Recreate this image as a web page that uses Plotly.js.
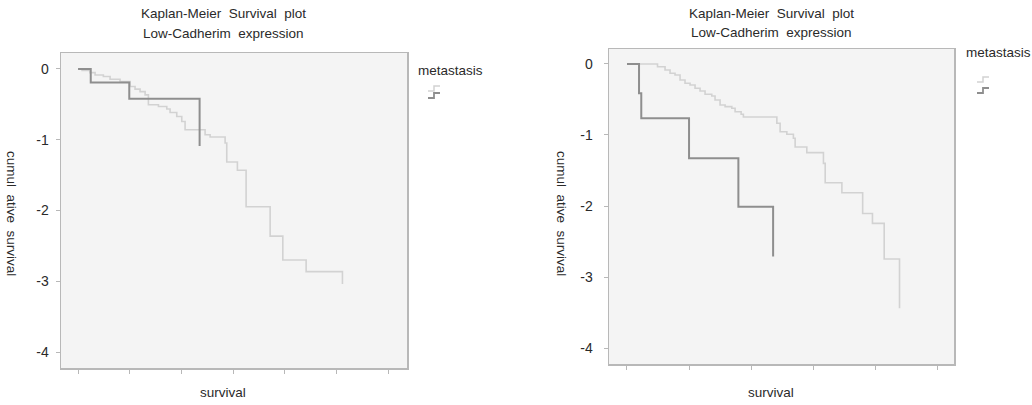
<!DOCTYPE html>
<html>
<head>
<meta charset="utf-8">
<script src="https://cdn.plot.ly/plotly-3.0.1.min.js"></script>
<style>html,body{margin:0;padding:0;background:#fff;}#chart{width:1032px;height:405px;}</style>
</head>
<body>
<div id="chart"></div>
<script>
// ---- Data ----
const titleLines = ["Kaplan-Meier  Survival  plot", "Low-Cadherim  expression"];
const yTitle = "cumul  ative  survival";
const xTitle = "survival";
const legendTitle = "metastasis";
const yTickVals = [0, -1, -2, -3, -4];
const yTickText = ["0", "-1", "-2", "-3", "-4"];
const xTickValsLeft = [0, 1, 2, 3, 4, 5, 6];
const xTickValsRight = [0, 1, 2, 3, 4, 5];

// Left panel: light curve (metastasis group 0)
const leftLightX = [0, 0.077, 0.23, 0.329, 0.489, 0.619, 0.812, 1.006, 1.102, 1.199, 1.296, 1.36, 1.554, 1.715, 1.779, 1.908, 2.005, 2.069, 2.456, 2.553, 2.843, 2.875, 3.081, 3.249, 3.714, 3.959, 4.410, 5.112, 5.112];
const leftLightY = [0, -0.021, -0.052, -0.085, -0.108, -0.145, -0.179, -0.249, -0.286, -0.320, -0.366, -0.507, -0.531, -0.567, -0.615, -0.672, -0.742, -0.859, -0.930, -0.962, -1.046, -1.314, -1.432, -1.948, -2.362, -2.700, -2.863, -2.863, -3.04];
// Left panel: dark curve (metastasis group 1)
const leftDarkX = [0, 0.245, 0.99, 2.35, 2.35];
const leftDarkY = [0, -0.193, -0.42, -0.42, -1.09];

// Right panel: light curve
const rightLightX = [0, 0.492, 0.613, 0.694, 0.774, 0.855, 0.935, 1.016, 1.097, 1.177, 1.258, 1.366, 1.419, 1.5, 1.581, 1.689, 1.742, 1.839, 1.876, 2.415, 2.468, 2.576, 2.682, 2.710, 2.898, 3.166, 3.194, 3.463, 3.798, 3.956, 4.145, 4.392, 4.392];
const rightLightY = [0, -0.038, -0.085, -0.131, -0.155, -0.225, -0.272, -0.296, -0.342, -0.380, -0.427, -0.451, -0.507, -0.577, -0.601, -0.624, -0.672, -0.708, -0.746, -0.835, -0.954, -0.990, -1.046, -1.169, -1.249, -1.399, -1.672, -1.813, -2.106, -2.244, -2.746, -2.746, -3.441];
// Right panel: dark curve
const rightDarkX = [0, 0.194, 0.23, 1.0, 1.795, 2.355, 2.355];
const rightDarkY = [0, -0.413, -0.765, -1.328, -2.01, -2.01, -2.71];

// ---- Styles ----
const lightColor = "#d2d2d2";
const darkColor = "#8e8e8e";
const frameColor = "#b8b8b8";
const bgColor = "#f4f4f4";
const textColor = "#2a2a2a";
const font = "Liberation Sans, Arial, sans-serif";

const W = 1032, H = 405;
const px = v => v / W;
const py = v => 1 - v / H;

const traces = [
  {x: leftLightX, y: leftLightY, xaxis: "x", yaxis: "y", mode: "lines", line: {shape: "hv", color: lightColor, width: 1.6}, hoverinfo: "skip"},
  {x: leftDarkX, y: leftDarkY, xaxis: "x", yaxis: "y", mode: "lines", line: {shape: "hv", color: darkColor, width: 2}, hoverinfo: "skip"},
  {x: rightLightX, y: rightLightY, xaxis: "x2", yaxis: "y2", mode: "lines", line: {shape: "hv", color: lightColor, width: 1.6}, hoverinfo: "skip"},
  {x: rightDarkX, y: rightDarkY, xaxis: "x2", yaxis: "y2", mode: "lines", line: {shape: "hv", color: darkColor, width: 2}, hoverinfo: "skip"}
];

function xAxis(domain, range, ticks, anchor) {
  return {domain: domain, range: range, anchor: anchor, tickvals: ticks, showticklabels: false,
    ticks: "outside", ticklen: 4, tickcolor: frameColor, tickwidth: 1,
    showgrid: false, zeroline: false, showline: true, linecolor: frameColor, linewidth: 1.5, mirror: true, fixedrange: true};
}
function yAxis(domain, range, anchor, standoff) {
  return {domain: domain, range: range, anchor: anchor, tickvals: yTickVals, ticktext: yTickText,
    ticks: "outside", ticklen: 4, tickcolor: frameColor, tickwidth: 1, ticklabelstandoff: standoff,
    tickfont: {family: font, size: 14, color: textColor},
    showgrid: false, zeroline: false, showline: true, linecolor: frameColor, linewidth: 1.5, mirror: true, fixedrange: true};
}

const annotations = [];
function panelText(cx, t1y, yTitleX, legendX, legendY) {
  const f = {family: font, size: 13.5, color: textColor};
  annotations.push({xref: "paper", yref: "paper", x: px(cx), y: py(t1y), text: titleLines[0], showarrow: false, xanchor: "center", yanchor: "middle", font: f});
  annotations.push({xref: "paper", yref: "paper", x: px(cx), y: py(t1y + 19), text: titleLines[1], showarrow: false, xanchor: "center", yanchor: "middle", font: f});
  annotations.push({xref: "paper", yref: "paper", x: px(yTitleX), y: py(213), text: yTitle, textangle: 90, showarrow: false, xanchor: "center", yanchor: "middle", font: f});
  annotations.push({xref: "paper", yref: "paper", x: px(cx), y: py(392), text: xTitle, showarrow: false, xanchor: "center", yanchor: "middle", font: f});
  annotations.push({xref: "paper", yref: "paper", x: px(legendX), y: py(legendY), text: legendTitle, showarrow: false, xanchor: "left", yanchor: "middle", font: f});
}
panelText(223, 14, 12, 416, 70);
panelText(771, 13, 562, 964, 52);

function stepIcon(x0, yLow, color, w) {
  const x1 = x0 + 6, x2 = x0 + 12, yHigh = yLow - 5;
  return {type: "path", xref: "paper", yref: "paper", layer: "above",
    path: `M ${px(x0)},${py(yLow)} L ${px(x1)},${py(yLow)} L ${px(x1)},${py(yHigh)} L ${px(x2)},${py(yHigh)}`,
    line: {color: color, width: w}};
}
const shapes = [
  stepIcon(428, 91, lightColor, 1.5), stepIcon(428, 98, darkColor, 1.8),
  stepIcon(977, 82, lightColor, 1.5), stepIcon(977, 93, darkColor, 1.8)
];

const layout = {
  width: W, height: H,
  margin: {l: 0, r: 0, t: 0, b: 0},
  paper_bgcolor: "#ffffff",
  plot_bgcolor: bgColor,
  showlegend: false,
  xaxis: xAxis([px(61), px(407)], [-0.33, 6.36], xTickValsLeft, "y"),
  yaxis: yAxis([py(368), py(53)], [-4.225, 0.225], "x", 4),
  xaxis2: xAxis([px(609), px(954)], [-0.29, 5.27], xTickValsRight, "y2"),
  yaxis2: yAxis([py(364), py(49)], [-4.225, 0.211], "x2", 8),
  annotations: annotations,
  shapes: shapes
};

Plotly.newPlot("chart", traces, layout, {staticPlot: true, displayModeBar: false});
</script>
</body>
</html>
